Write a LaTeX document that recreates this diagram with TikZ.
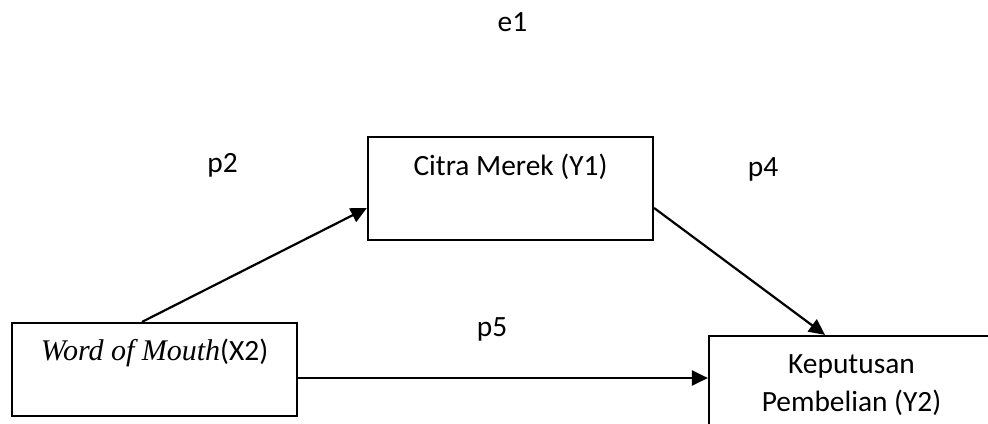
\documentclass[tikz,border=0pt]{standalone}
\usepackage{fontspec}
\setmainfont{Carlito}
\newfontfamily\wordfont{Liberation Serif}
\usetikzlibrary{arrows.meta,calc}

\begin{document}
\begin{tikzpicture}[x=0.5pt,y=-0.5pt,
    box/.style={draw, line width=1.1pt, rectangle, minimum width=142.5pt, inner sep=0pt},
    txt/.style={font=\fontsize{14.7}{19}\selectfont, inner sep=0pt, anchor=base},
    arr/.style={-{Triangle[length=8pt,width=7.5pt]}, line width=1.1pt}]
    \useasboundingbox (0,0) rectangle (988,423);
    \clip (0,0) rectangle (988,423);

    % variables
    \node[box, minimum height=46.5pt] (x2) at (154.5,369.5) {};
    \node[box, minimum height=51.5pt] (y1) at (510.5,188.5) {};
    \node[box, minimum height=51.5pt] (y2) at (851.5,387.5) {};

    \node[txt] (x2t) at ($(x2.north)+(0,39)$)
        {{\wordfont\fontsize{15}{19}\selectfont\itshape Word of Mouth}(X2)};
    \node[txt] (y1t) at ($(y1.north)+(0,40)$) {Citra Merek (Y1)};
    % base sits on the last line
    \node[txt, align=center] (y2t) at ($(y2.north)+(0,77)$) {Keputusan\\Pembelian (Y2)};

    % paths
    \draw[arr] ($(x2.north)+(-12.5,0)$) -- ($(y1.west)+(0,19.5)$);
    \draw[arr] ($(y1.east)+(0,19.5)$) -- ($(y2.north)+(-26.5,0)$);
    \draw[arr] ($(x2.east)+(0,8.5)$) -- ($(y2.west)+(0,-9.5)$);

    \node[txt] (e1) at (512.5,32) {e1};
    \node[txt] (p2) at (222.5,172) {p2};
    \node[txt] (p4) at (763,176) {p4};
    \node[txt] (p5) at (492,336) {p5};
\end{tikzpicture}
\end{document}
